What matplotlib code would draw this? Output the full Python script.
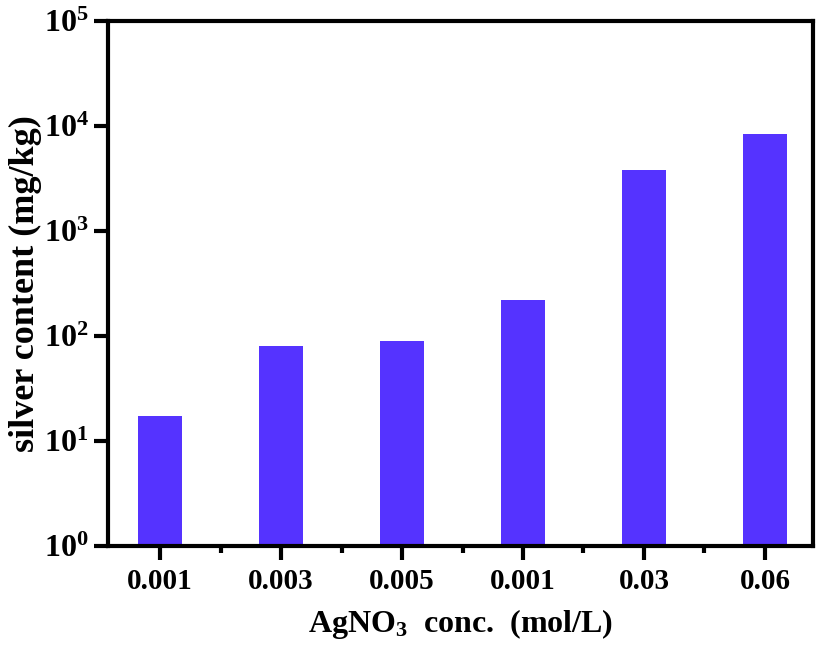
import numpy as np
import matplotlib.pyplot as plt
from matplotlib.ticker import LogLocator, NullLocator, FixedLocator

# 데이터: 질산은 농도별 은 함량
conc_labels = ['0.001', '0.003', '0.005', '0.001', '0.03', '0.06']
silver_content = [16.5, 79, 88, 220, 3800, 8400]

plt.rcParams['font.family'] = ['Liberation Serif', 'DejaVu Serif']
plt.rcParams['font.weight'] = 'bold'
plt.rcParams['mathtext.fontset'] = 'custom'
plt.rcParams['mathtext.rm'] = 'Liberation Serif:bold'
plt.rcParams['mathtext.it'] = 'Liberation Serif:bold'
plt.rcParams['mathtext.bf'] = 'Liberation Serif:bold'
plt.rcParams['mathtext.default'] = 'rm'

fig = plt.figure(figsize=(8.19, 6.51), dpi=100)
ax = fig.add_axes([0.132, 0.161, 0.861, 0.807])

xs = np.arange(1, len(conc_labels) + 1)
ax.bar(xs, silver_content, width=0.36, color='#5533ff', bottom=1)

ax.set_yscale('log')
ax.set_ylim(1, 1e5)
ax.set_xlim(0.57, 6.4)
ax.yaxis.set_major_locator(LogLocator(base=10, numticks=10))
ax.yaxis.set_minor_locator(NullLocator())

ax.set_xticks(xs)
ax.set_xticklabels(conc_labels)
ax.xaxis.set_minor_locator(FixedLocator(xs[:-1] + 0.5))

for s in ax.spines.values():
    s.set_linewidth(3)

ax.tick_params(axis='both', which='major', direction='out', length=10, width=3)
ax.tick_params(axis='x', which='major', labelsize=21, pad=6)
ax.tick_params(axis='x', which='minor', direction='out', length=5, width=3)
ax.tick_params(axis='y', labelsize=23, pad=4)

ax.set_xlabel(r'AgNO$_{3}$  conc.  (mol/L)', fontsize=23, fontweight='bold', labelpad=8)
ax.set_ylabel('silver content (mg/kg)', fontsize=26, fontweight='bold')
ax.yaxis.set_label_coords(-0.094, 0.5)

fig.savefig('out.png', dpi=100)
